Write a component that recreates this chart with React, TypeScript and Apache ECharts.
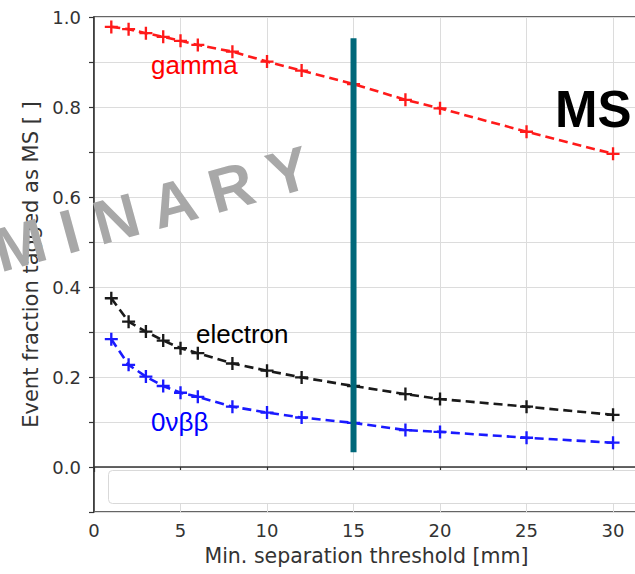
import React, { useEffect, useRef } from "react";
import * as echarts from "echarts";

const thresholds = [1, 2, 3, 4, 5, 6, 8, 10, 12, 15, 18, 20, 25, 30];
const gammaValues = [0.978, 0.973, 0.964, 0.956, 0.947, 0.938, 0.923, 0.901, 0.881, 0.851, 0.816, 0.797, 0.745, 0.696];
const electronValues = [0.375, 0.323, 0.301, 0.281, 0.264, 0.253, 0.230, 0.214, 0.199, 0.180, 0.162, 0.151, 0.134, 0.116];
const bb0nuValues = [0.284, 0.227, 0.201, 0.180, 0.165, 0.156, 0.134, 0.121, 0.110, 0.098, 0.082, 0.078, 0.065, 0.054];
const cutPosition = 15;
const cutRange = [0.953, 0.033];
const seriesNames = ["gamma", "electron", "0νββ"];
const xTicks = [0, 5, 10, 15, 20, 25, 30];
const yTickLabels = ["0.0", "0.2", "0.4", "0.6", "0.8", "1.0"];

const PLUS = "path://M4.1,0H5.9V4.1H10V5.9H5.9V10H4.1V5.9H0V4.1H4.1Z";

function pairs(xs: number[], ys: number[]) {
  return xs.map((x, i) => [x, ys[i]]);
}

function dashedSeries(name: string, values: number[], color: string) {
  return {
    name,
    type: "line",
    data: pairs(thresholds, values),
    symbol: PLUS,
    symbolSize: 13,
    showSymbol: true,
    itemStyle: { color },
    lineStyle: { color, width: 2.6, type: [9, 5] },
    z: 3,
  };
}

export default function App() {
  const ref = useRef<HTMLDivElement>(null);

  useEffect(() => {
    if (!ref.current) return;
    const chart = echarts.init(ref.current, undefined, { renderer: "svg" });
    const axisText = { color: "#333", fontFamily: "DejaVu Sans", fontSize: 18 };
    chart.setOption({
      animation: false,
      backgroundColor: "#fff",
      grid: {
        left: 94,
        right: -4,
        top: 17,
        bottom: 62,
        outerBoundsMode: "none",
        containLabel: false,
        show: true,
        borderColor: "#333",
        borderWidth: 1.5,
        backgroundColor: "transparent",
      },
      xAxis: {
        type: "value",
        min: 0,
        max: 31.5,
        interval: 5,
        name: "Min. separation threshold [mm]",
        nameLocation: "middle",
        nameGap: 33,
        nameTextStyle: { color: "#333", fontFamily: "DejaVu Sans", fontSize: 20.5 },
        axisLine: { show: true, lineStyle: { color: "#333", width: 1.5 } },
        axisTick: { show: true, length: 5, lineStyle: { color: "#333", width: 1.2 } },
        axisLabel: {
          ...axisText,
          margin: 9,
          formatter: (v: number) => (xTicks.includes(v) ? String(v) : ""),
        },
        splitLine: { show: true, lineStyle: { color: "#dcdcdc", width: 1 } },
      },
      yAxis: {
        type: "value",
        min: -0.1,
        max: 1.0,
        interval: 0.1,
        name: "Event fraction tagged as MS [ ]",
        nameLocation: "middle",
        nameGap: 52,
        nameTextStyle: { color: "#333", fontFamily: "DejaVu Sans", fontSize: 21 },
        axisLine: { show: true, lineStyle: { color: "#333", width: 1.5 } },
        axisTick: { show: true, length: 5, lineStyle: { color: "#333", width: 1.2 } },
        axisLabel: {
          ...axisText,
          margin: 13,
          formatter: (v: number) => {
            const s = v.toFixed(1);
            return yTickLabels.includes(s) ? s : "";
          },
        },
        splitLine: { show: true, lineStyle: { color: "#dcdcdc", width: 1 } },
      },
      series: [
        dashedSeries(seriesNames[0], gammaValues, "#ff1a1a"),
        dashedSeries(seriesNames[1], electronValues, "#1a1a1a"),
        dashedSeries(seriesNames[2], bb0nuValues, "#1a1aff"),
        {
          name: "cut",
          type: "line",
          data: [
            [cutPosition, cutRange[0]],
            [cutPosition, cutRange[1]],
          ],
          symbol: "none",
          lineStyle: { color: "#00687a", width: 6, cap: "butt" },
          z: 5,
        },
      ],
      graphic: [
        {
          type: "rect",
          z: 1,
          shape: { x: 108.5, y: 470.5, width: 540, height: 33, r: 4 },
          style: { fill: "#fff", stroke: "#d9d9d9", lineWidth: 1 },
        },
        {
          type: "text",
          z: 10,
          x: 151,
          y: 65,
          style: {
            text: seriesNames[0],
            fill: "#ff0000",
            font: "26px 'Liberation Sans', Arial, sans-serif",
            verticalAlign: "middle",
          },
        },
        {
          type: "text",
          z: 10,
          x: 196,
          y: 334,
          style: {
            text: seriesNames[1],
            fill: "#000",
            font: "26px 'Liberation Sans', Arial, sans-serif",
            verticalAlign: "middle",
          },
        },
        {
          type: "text",
          z: 10,
          x: 151,
          y: 422,
          style: {
            text: seriesNames[2],
            fill: "#0000ff",
            font: "26px 'Liberation Sans', Arial, sans-serif",
            verticalAlign: "middle",
          },
        },
        {
          type: "text",
          z: 10,
          x: 555,
          y: 109,
          style: {
            text: "MS",
            fill: "#000",
            font: "bold 51px 'Liberation Sans', Arial, sans-serif",
            verticalAlign: "middle",
          },
        },
        {
          type: "text",
          z: 100,
          x: 23,
          y: 244,
          rotation: (15.3 * Math.PI) / 180,
          style: {
            text: "P R E L I M I N A R Y",
            fill: "#a8a8a8",
            font: "bold 62px 'Liberation Sans', Arial, sans-serif",
            align: "center",
            verticalAlign: "middle",
          },
        },
      ],
    });
    return () => chart.dispose();
  }, []);

  return (
    <div
      ref={ref}
      style={{ position: "absolute", left: 0, top: 0, width: 635, height: 574 }}
    />
  );
}
